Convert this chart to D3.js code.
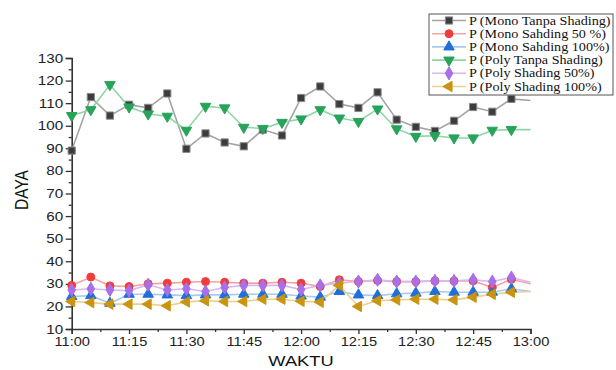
<!DOCTYPE html>
<html><head><meta charset="utf-8">
<script src="https://cdn.jsdelivr.net/npm/d3@7"></script>
<style>body{margin:0;background:#fff}svg{display:block}</style>
</head><body><svg id="c" width="616" height="370"></svg>
<script>
const times = ["11:00","11:05","11:10","11:15","11:20","11:25","11:30","11:35","11:40","11:45","11:50","11:55","12:00","12:05","12:10","12:15","12:20","12:25","12:30","12:35","12:40","12:45","12:50","12:55","13:00"];
const monoTanpa = [89,112.7,104.5,109.3,107.9,114.3,89.8,96.6,92.6,90.9,98.3,95.7,112.3,117.4,109.6,107.9,114.8,102.7,99.5,97.7,102.2,108.3,106.2,111.9,111.2];
const mono50 = [29.3,33,29.1,28.8,30,30.3,30.7,31,30.7,30.3,30.3,30.7,30.3,28.8,31.8,31,31.5,31,31,31.3,31.3,31.3,28.4,32,30];
const mono100 = [24.4,24.8,21.4,25.4,25.4,25.1,24.8,25.1,25.1,25.4,25.4,25.4,24.6,24.1,26.6,25.1,24.8,25.6,25.9,26.6,26.3,26.3,26.3,27.8,26.6];
const polyTanpa = [104.5,107.1,118.2,108.3,105.2,104.2,98,108.6,107.9,99.3,98.8,101.5,103,107.1,103.4,101.9,107.4,98.6,95.3,95.6,94.6,94.6,98,98.3,98.3];
const poly50 = [27.3,27.8,27.3,27,29.6,27.3,27.8,26.6,28.4,29.3,29.3,29.3,27.5,29.3,30.3,31,31.8,31,31,31.3,31.3,31.8,31,32.8,30.7];
const poly100 = [22.2,21.7,21,21,21,20.3,22,22.5,22.2,22.2,23.2,23.2,22.3,21.9,29.3,20,22.5,22.9,23.2,23.2,22.9,24.1,25.4,26.3,26.6];
const seriesNames = ["P (Mono Tanpa Shading)","P (Mono Sahding 50 %)","P (Mono Sahding 100%)","P (Poly Tanpa Shading)","P (Poly Shading 50%)","P (Poly Shading 100%)"];
const xTickLabels = ["11:00","11:15","11:30","11:45","12:00","12:15","12:30","12:45","13:00"];
const yTickValues = [10,20,30,40,50,60,70,80,90,100,110,120,130];

const toMin = s => { const [h,m] = s.split(":").map(Number); return (h-11)*60+m; };
const svg = d3.select("#c");
const SX = 1.22;
const x = d3.scaleLinear().domain([0,120]).range([71.7,530.5]);
const y = d3.scaleLinear().domain([10,130]).range([329,58]);

const styles = [
  {data: monoTanpa, line:"#a3a3a3", fill:"#3c3c3c", stroke:"#8a8a8a", sym:d3.symbolSquare, size:52, rot:0},
  {data: mono50, line:"#f6a3a3", fill:"#f23c3c", stroke:"#f23c3c", sym:d3.symbolCircle, size:50, rot:0},
  {data: mono100, line:"#a9c9f0", fill:"#1f6fd8", stroke:"#1f6fd8", sym:d3.symbolTriangle, size:48, rot:0},
  {data: polyTanpa, line:"#8fd6a6", fill:"#27a35a", stroke:"#27a35a", sym:d3.symbolTriangle, size:48, rot:180},
  {data: poly50, line:"#d6b8f3", fill:"#a86fe6", stroke:"#a86fe6", sym:d3.symbolDiamond, size:50, rot:0},
  {data: poly100, line:"#e9d08c", fill:"#c9940f", stroke:"#c9940f", sym:d3.symbolTriangle, size:48, rot:-90}
];

// axes
const axisColor = "#333";
const yAxis = svg.append("g").attr("transform","translate(71.7,0)")
  .call(d3.axisLeft(y).tickValues(yTickValues).tickSize(6).tickPadding(2).tickFormat(d3.format("d")));
const yMinor = svg.append("g").attr("transform","translate(71.7,0)")
  .call(d3.axisLeft(y).tickValues(yTickValues.slice(0,-1).map(v=>v+5)).tickSize(3).tickFormat(""));
yMinor.select(".domain").remove();
const xAxis = svg.append("g").attr("transform","translate(0,329)")
  .call(d3.axisBottom(x).tickValues(xTickLabels.map(toMin)).tickSize(5).tickPadding(3).tickFormat((d,i)=>xTickLabels[i]));
const xMinor = svg.append("g").attr("transform","translate(0,329)")
  .call(d3.axisBottom(x).tickValues(xTickLabels.slice(0,-1).map(s=>toMin(s)+7.5)).tickSize(3).tickFormat(""));
xMinor.select(".domain").remove();
svg.selectAll(".domain").attr("stroke",axisColor).attr("stroke-width",1.6);
svg.selectAll(".tick line").attr("stroke",axisColor).attr("stroke-width",1.3);
yAxis.selectAll("text").attr("font-family","Liberation Sans, Arial, sans-serif").attr("font-size",12.5).attr("fill","#222")
  .attr("x",-7).attr("transform",`scale(${SX},1)`);
xAxis.selectAll("text").attr("font-family","Liberation Sans, Arial, sans-serif").attr("font-size",12).attr("fill","#222")
  .attr("transform",`scale(${SX},1)`);

// axis titles
svg.append("text").attr("transform",`translate(28,190) rotate(-90) scale(1,${SX})`)
  .attr("text-anchor","middle").attr("font-family","Liberation Sans, Arial, sans-serif").attr("font-size",15.5).attr("fill","#111").text("DAYA");
svg.append("text").attr("transform",`translate(301,366) scale(${SX},1)`)
  .attr("text-anchor","middle").attr("font-family","Liberation Sans, Arial, sans-serif").attr("font-size",15).attr("fill","#111").text("WAKTU");

// lines and markers
const line = d3.line().x((d,i)=>x(toMin(times[i]))).y(d=>y(d));
styles.forEach(s=>{
  svg.append("path").datum(s.data).attr("d",line).attr("fill","none").attr("stroke",s.line).attr("stroke-width",1.6);
});
styles.forEach(s=>{
  const sym = d3.symbol().type(s.sym).size(s.size);
  svg.append("g").selectAll("path").data(s.data.slice(0,-1)).join("path")
    .attr("d",sym)
    .attr("transform",(d,i)=>`translate(${x(toMin(times[i]))},${y(d)}) rotate(${s.rot})`)
    .attr("fill",s.fill).attr("stroke",s.stroke).attr("stroke-width",1);
});

// legend
const lg = svg.append("g");
lg.append("rect").attr("x",429).attr("y",14).attr("width",184).attr("height",81)
  .attr("fill","#fff").attr("stroke","#555").attr("stroke-width",1);
seriesNames.forEach((name,i)=>{
  const s = styles[i];
  const yy = 20.5 + i*13.2;
  lg.append("line").attr("x1",432).attr("x2",466).attr("y1",yy).attr("y2",yy).attr("stroke",s.line).attr("stroke-width",1.6);
  lg.append("path").attr("d",d3.symbol().type(s.sym).size(s.size)())
    .attr("transform",`translate(449,${yy}) rotate(${s.rot})`).attr("fill",s.fill).attr("stroke",s.stroke);
  lg.append("text").attr("transform",`translate(469,${yy+4}) scale(1.2,1)`)
    .attr("font-family","Liberation Serif, Times New Roman, serif").attr("font-size",11.8).attr("fill","#111").text(name);
});
</script></body></html>
